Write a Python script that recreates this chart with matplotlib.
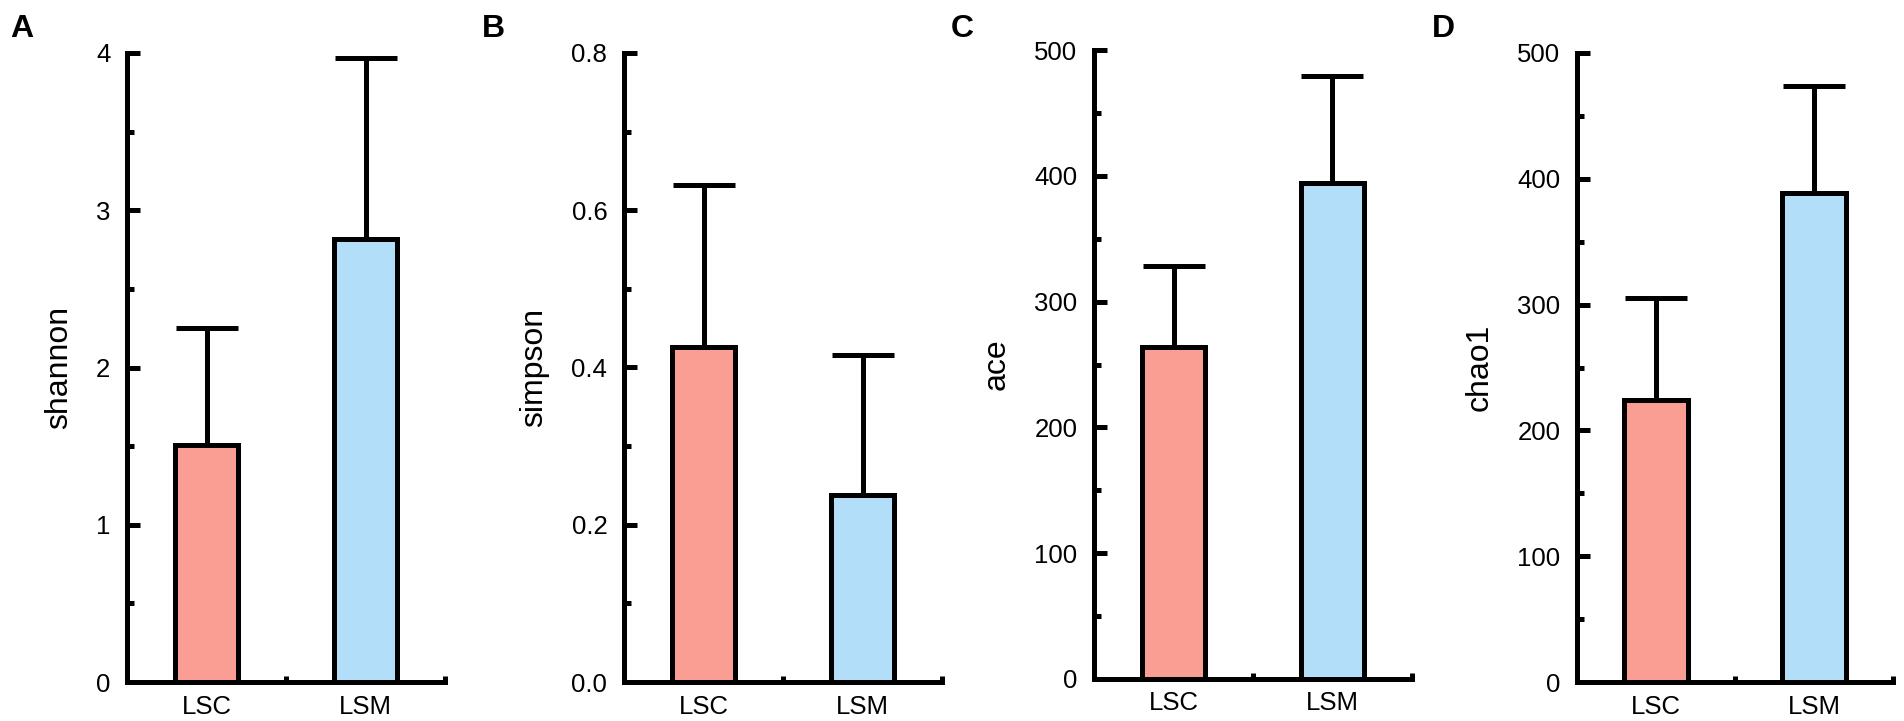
import matplotlib.pyplot as plt
from matplotlib.ticker import MultipleLocator

plt.rcParams['font.family'] = ['Liberation Sans', 'DejaVu Sans']

groups = ['LSC', 'LSM']
letters = ['A', 'B', 'C', 'D']
ylabels = ['shannon', 'simpson', 'ace', 'chao1']
means = [[1.51, 2.82], [0.426, 0.238], [264, 394], [224, 389]]
errs = [[0.74, 1.15], [0.206, 0.178], [64, 85], [81, 85]]
ymax = [4, 0.8, 500, 500]
ystep = [1, 0.2, 100, 100]
yfmt = ['{:.0f}', '{:.1f}', '{:.0f}', '{:.0f}']
colors = ['#FA9E94', '#B3DEF9']

W, H = 1904, 721
fig = plt.figure(figsize=(W / 100, H / 100), dpi=100)

# axes boxes in pixels: left, bottom (from top), width
boxes = [(127, 682, 318), (624, 682, 318), (1094, 679, 318), (1577, 682, 316)]
letter_x = [22, 493, 962, 1443]
lw = 3.6

for i in range(4):
    left, bot, wid = boxes[i]
    ax = fig.add_axes([left / W, (H - bot) / H, wid / W, 629 / H])
    x = [0.5, 1.5]
    ax.bar(x, means[i], width=0.4, color=colors, edgecolor='black', linewidth=lw, zorder=2)
    ax.errorbar(x, means[i], yerr=[[0, 0], errs[i]], fmt='none', ecolor='black',
                elinewidth=lw, capsize=22, capthick=lw, zorder=1)
    ax.set_xlim(0, 2)
    for s in ['top', 'right']:
        ax.spines[s].set_visible(False)
    for s in ['left', 'bottom']:
        ax.spines[s].set_linewidth(lw)
    ax.yaxis.set_major_locator(MultipleLocator(ystep[i]))
    ax.yaxis.set_minor_locator(MultipleLocator(ystep[i] / 2))
    ax.set_ylim(0, ymax[i])
    ax.set_yticks(ax.get_yticks())
    ax.set_yticklabels([yfmt[i].format(v) for v in ax.get_yticks()])
    ax.set_ylim(0, ymax[i])
    ax.tick_params(axis='y', which='major', direction='in', length=9, width=lw,
                   labelsize=18.5, pad=12)
    ax.tick_params(axis='y', which='minor', direction='in', length=5, width=lw)
    ax.set_xticks(x)
    ax.set_xticklabels(groups)
    ax.set_xticks([1, 2], minor=True)
    ax.tick_params(axis='x', which='major', length=0, labelsize=18.5, pad=9)
    ax.tick_params(axis='x', which='minor', direction='in', length=4, width=lw)
    ax.set_ylabel(ylabels[i], fontsize=23, labelpad=16)
    fig.text(letter_x[i] / W, 1 - 29 / H, letters[i], fontsize=23, fontweight='bold',
             ha='center', va='center')

plt.savefig('out.png', dpi=100)
